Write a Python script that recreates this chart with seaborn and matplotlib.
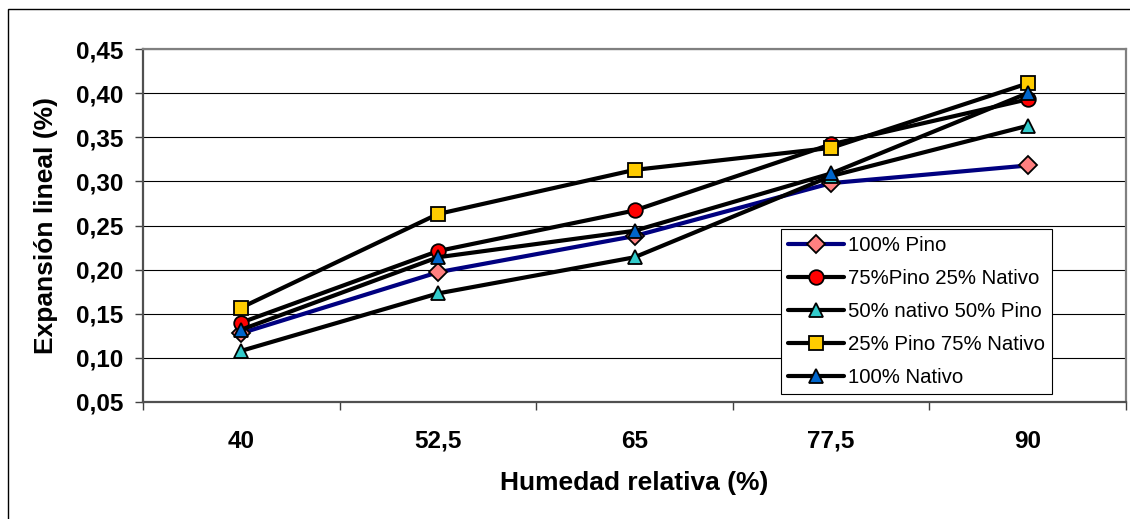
import matplotlib
matplotlib.use("Agg")
import matplotlib.pyplot as plt
import seaborn as sns
from matplotlib.patches import Rectangle
from matplotlib.ticker import FixedLocator, FixedFormatter, NullFormatter

# ---- data ----
humedad = ["40", "52,5", "65", "77,5", "90"]
pino_100 = [0.128, 0.197, 0.238, 0.298, 0.318]
pino75_nativo25 = [0.140, 0.221, 0.267, 0.342, 0.393]
nativo50_pino50 = [0.108, 0.173, 0.214, 0.306, 0.363]
pino25_nativo75 = [0.157, 0.263, 0.313, 0.338, 0.411]
nativo_100 = [0.132, 0.214, 0.244, 0.309, 0.400]
series_labels = ["100% Pino", "75%Pino 25% Nativo", "50% nativo 50% Pino",
                 "25% Pino 75% Nativo", "100% Nativo"]
y_ticks = [0.05, 0.10, 0.15, 0.20, 0.25, 0.30, 0.35, 0.40, 0.45]
x_label = "Humedad relativa (%)"
y_label = "Expansión lineal (%)"

sns.set_style("white")
plt.rcParams['font.family'] = ['Liberation Sans', 'DejaVu Sans']
plt.rcParams['text.color'] = 'black'
plt.rcParams['axes.labelcolor'] = 'black'
plt.rcParams['xtick.color'] = 'black'
plt.rcParams['ytick.color'] = 'black'

W, H = 1130, 519
fig = plt.figure(figsize=(W / 100, H / 100), dpi=100)
ax = fig.add_axes([143 / W, 117 / H, 983 / W, 353 / H])

styles = [
    dict(color="#000080", marker="D", markerfacecolor="#FF8080", markersize=9),
    dict(color="black", marker="o", markerfacecolor="#FF0000", markersize=10.5),
    dict(color="black", marker="^", markerfacecolor="#33CCCC", markersize=10),
    dict(color="black", marker="s", markerfacecolor="#FFCC00", markersize=10.5),
    dict(color="black", marker="^", markerfacecolor="#0066CC", markersize=10),
]
all_series = [pino_100, pino75_nativo25, nativo50_pino50, pino25_nativo75, nativo_100]

for i, (vals, lab, st) in enumerate(zip(all_series, series_labels, styles)):
    sns.lineplot(x=humedad, y=vals, ax=ax, sort=False, label=lab,
                 linewidth=3.0, markeredgecolor="black", markeredgewidth=1.3,
                 clip_on=False, zorder=3 + i, **st)

ax.set_xlim(-0.5, 4.5)
ax.set_ylim(0.05, 0.45)

# y axis
ax.yaxis.set_major_locator(FixedLocator(y_ticks))
ax.yaxis.set_major_formatter(FixedFormatter([f"{v:.2f}".replace(".", ",") for v in y_ticks]))
ax.tick_params(axis="y", which="major", direction="out", length=6, width=1,
               color="#404040", labelcolor="black", pad=8, labelsize=17.5, left=True)
for t in ax.get_yticklabels():
    t.set_fontweight("bold")

# x axis: labels at category centers, tick marks at boundaries
ax.set_xticks(range(len(humedad)))
ax.set_xticklabels(humedad, fontsize=17.5, fontweight="bold", color="black")
ax.xaxis.set_minor_locator(FixedLocator([k - 0.5 for k in range(len(humedad) + 1)]))
ax.xaxis.set_minor_formatter(NullFormatter())
ax.tick_params(axis="x", which="major", length=0, pad=20)
ax.tick_params(axis="x", which="minor", direction="out", length=6, width=1,
               color="#404040", bottom=True)

ax.grid(axis="y", color="black", linewidth=0.8)
ax.grid(axis="x", visible=False)
ax.set_axisbelow(True)

for side in ["top", "right"]:
    ax.spines[side].set_color("#808080")
    ax.spines[side].set_linewidth(1.6)
for side in ["left", "bottom"]:
    ax.spines[side].set_color("#505050")
    ax.spines[side].set_linewidth(1.6)

ax.set_xlabel(x_label, fontsize=19, fontweight="bold", color="black")
ax.set_ylabel(y_label, fontsize=19, fontweight="bold", color="black")
ax.xaxis.set_label_coords(0.5, -0.195)
ax.yaxis.set_label_coords(-0.0865, 0.5)

leg = ax.legend(loc="lower left", bbox_to_anchor=(0.649, 0.023), borderaxespad=0,
                fontsize=14.7, frameon=True, fancybox=False, shadow=False,
                framealpha=1, edgecolor="black", handlelength=2.75,
                handletextpad=0.2, labelspacing=0.68, borderpad=0.35,
                numpoints=1, labelcolor="black")
leg.get_frame().set_linewidth(0.8)
leg.set_zorder(20)

# outer chart border (cropped on right and bottom)
fig.patches.append(Rectangle((8 / W, -0.2), 1.2, 1.2 - 9 / H, transform=fig.transFigure,
                             fill=False, edgecolor="black", linewidth=1.0))

fig.savefig("out.png", dpi=100)
